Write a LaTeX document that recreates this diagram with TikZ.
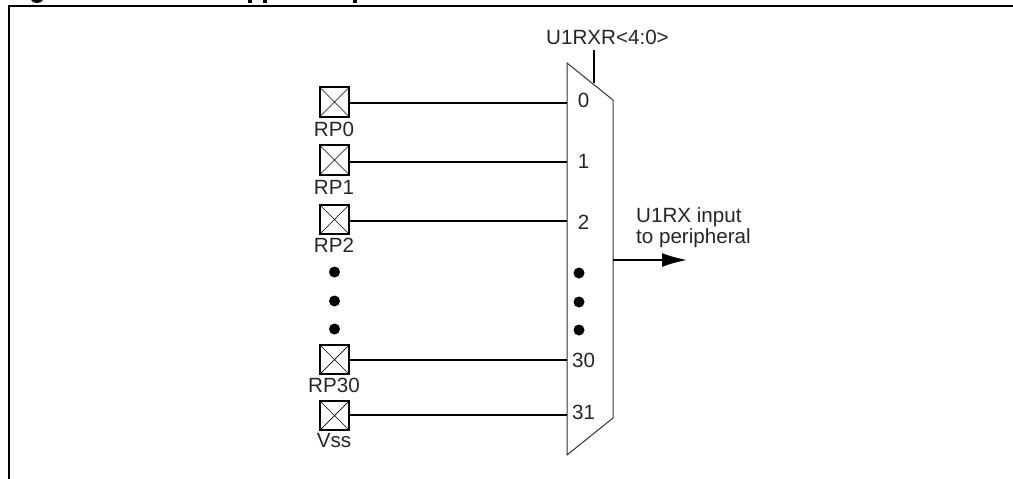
\documentclass[tikz,border=0pt]{standalone}
\usepackage{fontspec}
\setmainfont{Liberation Sans}
\usetikzlibrary{arrows.meta}
\tikzset{
  x=1pt,y=-1pt,
  pinbox/.style={draw,line width=1.8pt,minimum size=29.5pt,inner sep=0pt,outer sep=0pt,
    path picture={\draw[line width=.7pt] (path picture bounding box.north west)--(path picture bounding box.south east)
      (path picture bounding box.north east)--(path picture bounding box.south west);}},
  wire/.style={line width=1.7pt},
  lbl/.style={font=\fontsize{20.6}{21}\selectfont,inner sep=0pt,text=black!85},
  dotm/.style={circle,fill=black,inner sep=0pt,minimum size=11pt},
  frameline/.style={line width=2pt}
}
\begin{document}
\begin{tikzpicture}
\useasboundingbox (0,0) rectangle (1013,479);
\fill[white] (0,0) rectangle (1013,479);
% frame
\coordinate (fb) at (9,479);
\coordinate (ft) at (9,6);
\coordinate (fr) at (1013,6);
\draw[frameline] (fb)--(ft)--(fr);
% cut-off title descenders
\fill (31,0) -- (43,0) .. controls (41,4) and (33,4) .. cycle;
\fill (248,0) rectangle (251.5,3);
\fill (263,0) rectangle (266.5,3);
\fill (353,0) rectangle (356.5,3);
% mux
\draw[line width=1pt,black!80] (567,63)--(613,100)--(613,418)--(567,455)--cycle;
\coordinate (sel) at (594,83);
\coordinate (selt) at (594,50);
\draw[wire] (sel)--(selt);
\node[lbl] (seltext) at (607.5,37) {U1RXR<4:0>};
% pins
\foreach \n/\by/\wy/\t/\lab/\ly/\ny in {a/102/102.7/RP0/0/129/100.5,b/160/161.7/RP1/1/187/161,c/219.5/221/RP2/2/245.5/222,d/359.5/360/RP30/30/385/360,e/415.5/415/Vss/31/441/412}{
  \node[pinbox] (p\n) at (334.5,\by) {};
  \node[lbl] (t\n) at (334,\ly) {\t};
  \coordinate (w\n) at (567,\wy);
  \draw[wire] (p\n.east |- w\n)--(w\n);
  \node[lbl] (l\n) at (583.5,\ny) {\lab};
}
% dots
\foreach \n/\y/\yy in {1/272/273,2/301/302,3/329/330}{
  \node[dotm] (dl\n) at (334.5,\y) {};
  \node[dotm] (dr\n) at (579,\yy) {};
}
% output
\coordinate (oa) at (613,260);
\coordinate (ob) at (687,260);
\draw[wire,-{Latex[length=25pt,width=14pt]}] (oa)--(ob);
\node[lbl,anchor=west,align=left] (out) at (636,228) {U1RX input\\to peripheral};
\end{tikzpicture}
\end{document}
